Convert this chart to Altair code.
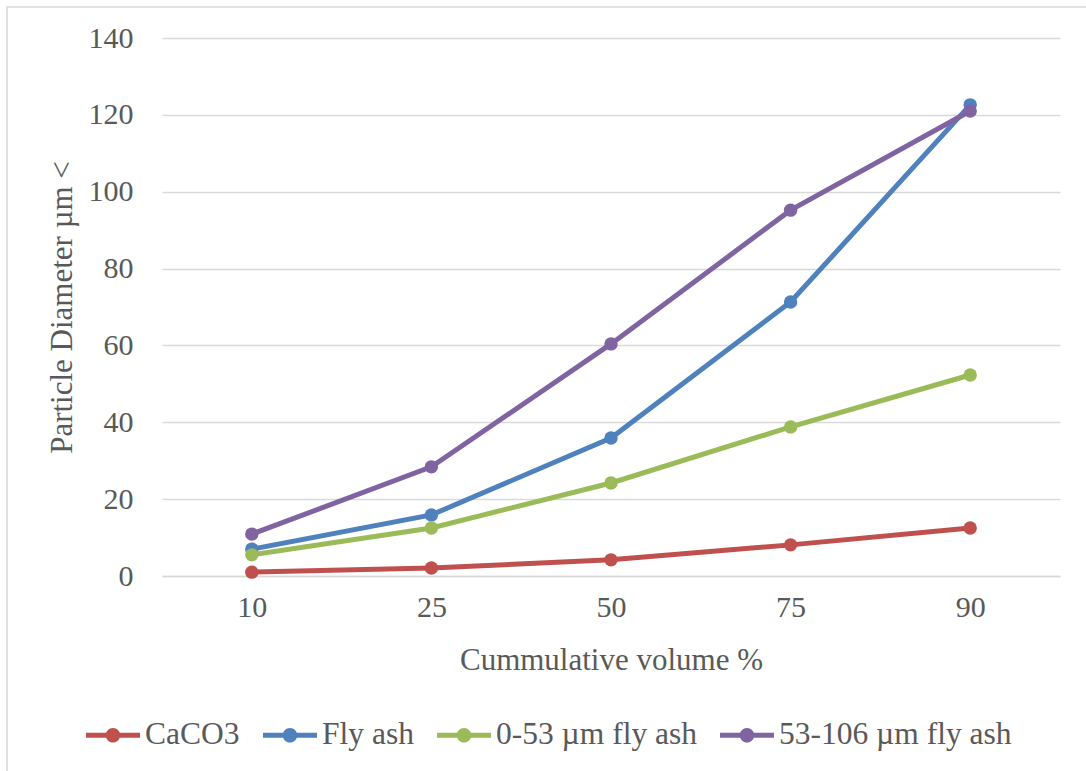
import altair as alt
import pandas as pd

# Cumulative volume percentiles (x categories)
volume_pct = ["10", "25", "50", "75", "90"]

# Particle diameter (µm) at each percentile
caco3 = [1.0, 2.1, 4.2, 8.1, 12.5]
fly_ash = [7.0, 15.9, 35.9, 71.3, 122.6]
fly_ash_0_53 = [5.5, 12.5, 24.2, 38.8, 52.3]
fly_ash_53_106 = [10.9, 28.4, 60.4, 95.2, 121.0]

series_names = ["CaCO3", "Fly ash", "0-53 µm fly ash", "53-106 µm fly ash"]
series_values = [caco3, fly_ash, fly_ash_0_53, fly_ash_53_106]
series_colors = ["#C0504D", "#4F81BD", "#9BBB59", "#8064A2"]

rows = []
for name, vals in zip(series_names, series_values):
    for i, (cat, v) in enumerate(zip(volume_pct, vals)):
        rows.append({"volume": cat, "diameter": v, "series": name, "order": i})
df = pd.DataFrame(rows)

FONT = "Liberation Serif"
TEXT = "#595959"
GRID = "#d9d9d9"

# Legend glyph: a short line with a dot in the middle
line_dot = (
    "M -1 -0.09 L 1 -0.09 L 1 0.09 L -1 0.09 Z "
    "M 0.27 0 A 0.27 0.27 0 1 1 -0.27 0 A 0.27 0.27 0 1 1 0.27 0 Z"
)

color = alt.Color(
    "series:N",
    sort=series_names,
    scale=alt.Scale(domain=series_names, range=series_colors),
    legend=alt.Legend(
        title=None,
        orient="none",
        direction="horizontal",
        legendX=-76,
        legendY=670,
        symbolType=line_dot,
        symbolSize=2916,
        symbolStrokeWidth=0,
        symbolOpacity=1,
        labelFont=FONT,
        labelFontSize=31.5,
        labelColor=TEXT,
        labelOffset=5,
        columnPadding=23,
        padding=0,
        labelLimit=400,
    ),
)

lines = alt.Chart(df).mark_line(
    strokeWidth=5,
    point=alt.OverlayMarkDef(filled=True, size=180, opacity=1),
).encode(
    x=alt.X(
        "volume:O",
        sort=volume_pct,
        scale=alt.Scale(type="point", padding=0.5),
        axis=alt.Axis(
            title="Cummulative volume %",
            labelAngle=0,
            ticks=False,
            domain=True,
            domainColor=GRID,
            domainWidth=1.5,
            labelPadding=16,
            labelFont=FONT,
            labelFontSize=30,
            labelColor=TEXT,
            titleFont=FONT,
            titleFontSize=31,
            titleFontWeight="normal",
            titleColor=TEXT,
            titleBaseline="middle",
            titleY=84,
        ),
    ),
    y=alt.Y(
        "diameter:Q",
        scale=alt.Scale(domain=[0, 140], nice=False),
        axis=alt.Axis(
            title="Particle Diameter µm <",
            values=[0, 20, 40, 60, 80, 100, 120, 140],
            ticks=False,
            domain=False,
            grid=True,
            gridColor=GRID,
            gridWidth=1.5,
            labelPadding=29,
            labelFont=FONT,
            labelFontSize=30,
            labelColor=TEXT,
            titleFont=FONT,
            titleFontSize=31,
            titleFontWeight="normal",
            titleColor=TEXT,
            titleBaseline="middle",
            titleX=-100,
        ),
    ),
    color=color,
    order="order:Q",
)

# Light outer frame around the chart area
frame = alt.Chart(pd.DataFrame({"f": [0]})).mark_rect(
    fill=None, stroke=GRID, strokeWidth=1.5
).encode(
    x=alt.value(-155), x2=alt.value(1100),
    y=alt.value(-31), y2=alt.value(800),
)

chart = alt.layer(frame, lines).properties(
    width=898,
    height=538,
    autosize=alt.AutoSizeParams(type="none"),
    padding={"left": 162, "top": 38, "right": 26, "bottom": 195},
    background="white",
).configure_view(stroke=None)

chart.save("out.html", embed_options={"renderer": "svg", "actions": False})
